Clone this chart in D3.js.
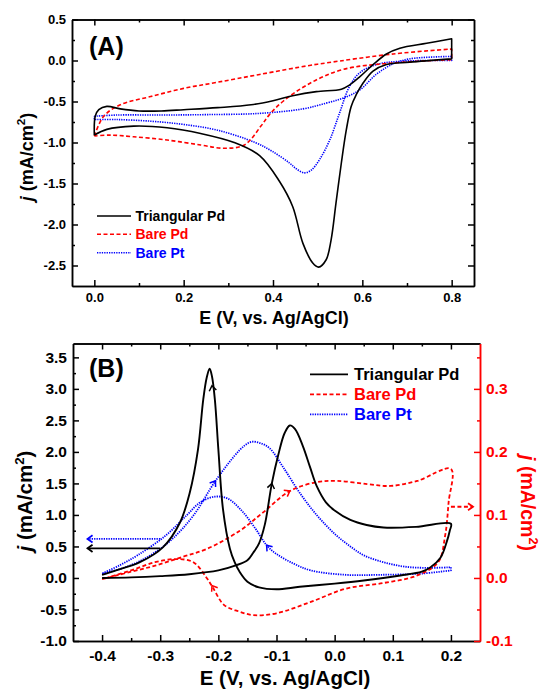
<!DOCTYPE html>
<html>
<head>
<meta charset="utf-8">
<script src="https://cdn.jsdelivr.net/npm/d3@7"></script>
<style>
  body { margin: 0; background: #fff; }
  svg { display: block; }
</style>
</head>
<body>
<svg width="541" height="691"></svg>
<script>
// ---- data, panel A (E in V, j in mA/cm2), points in sweep order ----
const triPdA = [
  [0.0,-0.91],[0.002,-0.68],[0.01,-0.6],[0.028,-0.56],[0.058,-0.59],[0.1,-0.615],[0.15,-0.615],[0.2,-0.6],
  [0.276,-0.575],[0.351,-0.54],[0.4,-0.49],[0.444,-0.43],[0.497,-0.38],[0.553,-0.35],[0.571,-0.3],[0.594,-0.2],
  [0.624,-0.05],[0.654,0.08],[0.684,0.15],[0.744,0.21],[0.8,0.265],
  [0.8,0.02],[0.706,-0.02],[0.654,-0.05],[0.624,-0.13],[0.601,-0.28],[0.586,-0.42],[0.575,-0.56],[0.564,-0.85],
  [0.553,-1.25],[0.541,-1.74],[0.53,-2.19],[0.519,-2.43],[0.502,-2.52],[0.489,-2.47],[0.467,-2.23],[0.444,-1.78],
  [0.414,-1.47],[0.37,-1.16],[0.313,-1.0],[0.238,-0.89],[0.163,-0.82],[0.088,-0.8],[0.028,-0.84],[0.0,-0.91]
];
const barePdA = [
  [0.0,-0.92],[0.021,-0.68],[0.058,-0.54],[0.126,-0.44],[0.2,-0.34],[0.276,-0.265],[0.37,-0.17],[0.482,-0.06],
  [0.519,-0.03],[0.669,0.08],[0.8,0.14],
  [0.8,0.01],[0.669,-0.03],[0.556,-0.11],[0.482,-0.28],[0.422,-0.5],[0.392,-0.66],[0.373,-0.8],[0.336,-1.03],
  [0.29,-1.07],[0.238,-1.03],[0.163,-0.97],[0.088,-0.93],[0.036,-0.91],[0.0,-0.92]
];
const barePtA = [
  [0.0,-0.68],[0.05,-0.665],[0.15,-0.665],[0.25,-0.66],[0.37,-0.645],[0.467,-0.59],[0.519,-0.52],[0.556,-0.46],
  [0.594,-0.36],[0.631,-0.17],[0.669,-0.04],[0.706,0.02],[0.8,0.05],
  [0.8,0.0],[0.684,-0.01],[0.631,-0.05],[0.594,-0.15],[0.571,-0.32],[0.549,-0.64],[0.527,-0.97],[0.504,-1.21],
  [0.485,-1.34],[0.47,-1.37],[0.452,-1.32],[0.437,-1.25],[0.399,-1.11],[0.36,-1.0],[0.276,-0.85],[0.2,-0.78],
  [0.126,-0.74],[0.05,-0.72],[0.0,-0.72],[0.0,-0.68]
];

// ---- data, panel B (black & blue on left axis, red on right axis) ----
const triPdB = [
  [-0.4,0.0],[-0.35,0.01],[-0.3,0.03],[-0.25,0.06],[-0.2,0.12],[-0.17,0.2],[-0.15,0.28],[-0.14,0.4],[-0.13,0.55],
  [-0.12,0.85],[-0.108,1.5],[-0.097,1.95],[-0.086,2.3],[-0.077,2.42],[-0.068,2.36],[-0.055,2.1],[-0.042,1.75],
  [-0.031,1.46],[-0.015,1.2],[0.0,1.07],[0.027,0.92],[0.055,0.84],[0.084,0.8],[0.14,0.81],[0.2,0.86],
  [0.198,0.75],[0.193,0.58],[0.182,0.32],[0.165,0.17],[0.15,0.1],[0.113,0.04],[0.05,-0.04],[0.0,-0.09],
  [-0.06,-0.14],[-0.1,-0.18],[-0.13,-0.15],[-0.15,-0.06],[-0.163,0.09],[-0.172,0.25],[-0.18,0.46],[-0.192,1.09],
  [-0.2,2.04],[-0.206,2.83],[-0.211,3.2],[-0.215,3.32],[-0.22,3.18],[-0.226,2.83],[-0.235,2.04],[-0.249,1.36],
  [-0.266,0.88],[-0.295,0.49],[-0.335,0.25],[-0.376,0.12],[-0.4,0.05]
];
const barePdB = [
  [-0.4,-0.002],[-0.35,0.01],[-0.307,0.02],[-0.26,0.034],[-0.22,0.046],[-0.163,0.075],[-0.123,0.104],
  [-0.077,0.138],[-0.031,0.152],[0.004,0.154],[0.056,0.149],[0.096,0.146],[0.142,0.154],[0.2,0.173],
  [0.196,0.12],[0.19,0.067],[0.178,0.025],[0.142,0.004],[0.084,-0.008],[0.019,-0.017],[-0.041,-0.038],
  [-0.1,-0.056],[-0.139,-0.059],[-0.165,-0.053],[-0.19,-0.043],[-0.209,-0.016],[-0.22,0.0],[-0.243,0.025],
  [-0.273,0.03],[-0.309,0.025],[-0.35,0.012],[-0.4,-0.002]
];
const barePtB = [
  [-0.4,0.07],[-0.37,0.14],[-0.339,0.25],[-0.31,0.4],[-0.279,0.62],[-0.243,0.99],[-0.205,1.54],[-0.172,1.94],
  [-0.155,2.1],[-0.143,2.16],[-0.128,2.14],[-0.112,2.06],[-0.088,1.75],[-0.06,1.35],[-0.031,1.0],[0.0,0.7],
  [0.027,0.5],[0.05,0.36],[0.084,0.25],[0.12,0.18],[0.16,0.16],[0.2,0.17],
  [0.2,0.12],[0.15,0.07],[0.078,0.05],[0.019,0.05],[-0.041,0.12],[-0.071,0.23],[-0.1,0.38],[-0.117,0.52],
  [-0.136,0.78],[-0.16,1.07],[-0.184,1.26],[-0.206,1.29],[-0.231,1.2],[-0.255,0.99],[-0.291,0.67],
  [-0.339,0.36],[-0.37,0.2],[-0.4,0.07]
];

// sweep-direction arrows on the curves of panel B: [series, E, j]
const curveArrowsB = [
  ['tri', -0.211, 3.05], ['tri', -0.108, 1.5],
  ['pt', -0.205, 1.54], ['pt', -0.117, 0.52],
  ['pd', -0.077, 0.138], ['pd', -0.211, -0.012]
];
// arrows pointing at the axis each curve belongs to: [series, E from, E to, j]
const axisArrowsB = [
  ['tri', -0.3, -0.425, 0.47], ['pt', -0.3, -0.425, 0.62], ['pd', 0.2, 0.238, 0.113]
];

// ticks
const xMajorA = [0, 0.2, 0.4, 0.6, 0.8], xMinorA = [0.1, 0.3, 0.5, 0.7];
const yMajorA = [-2.5, -2, -1.5, -1, -0.5, 0, 0.5];
const yMinorA = [-2.25, -1.75, -1.25, -0.75, -0.25, 0.25];
const xMajorB = [-0.4, -0.3, -0.2, -0.1, 0, 0.1, 0.2];
const xMinorB = [-0.35, -0.25, -0.15, -0.05, 0.05, 0.15];
const yMajorB = [-1, -0.5, 0, 0.5, 1, 1.5, 2, 2.5, 3, 3.5];
const yMinorB = [-0.75, -0.25, 0.25, 0.75, 1.25, 1.75, 2.25, 2.75, 3.25];
const yRMajorB = [-0.1, 0, 0.1, 0.2, 0.3];
const yRMinorB = [-0.05, 0.05, 0.15, 0.25, 0.35];

const seriesNames = { tri: 'Triangular Pd', pd: 'Bare Pd', pt: 'Bare Pt' };

const FONT = 'Arial, "Liberation Sans", Helvetica, sans-serif';
const style = {
  tri: { color: '#000000', dash: null },
  pd:  { color: '#ff0000', dash: '4,2.5' },
  pt:  { color: '#0000ff', dash: '1.3,1.1' }
};

const svg = d3.select('svg');
svg.append('rect').attr('width', 541).attr('height', 691).attr('fill', '#fff');
const fmt = d => d.toFixed(1);

// make() returns a fresh d3 axis generator
function axis(make, tx, ty, major, minor, fmtFn, pad, fs, color) {
  const g = svg.append('g').attr('transform', `translate(${tx},${ty})`);
  g.append('g').call(make().tickValues(minor).tickSizeInner(-3).tickSizeOuter(0).tickFormat(() => ''));
  g.append('g').call(make().tickValues(major).tickSizeInner(-6).tickSizeOuter(0)
    .tickPadding(pad).tickFormat(fmtFn));
  g.selectAll('g').attr('font-family', FONT).attr('font-size', fs).attr('font-weight', 'bold');
  g.selectAll('line').attr('stroke', color).attr('stroke-width', 1.5);
  g.selectAll('.domain').attr('stroke', color).attr('stroke-width', 1.5);
  g.selectAll('text').attr('fill', color);
  return g;
}

// smooth each sweep; where two points share the same E (a turning point) join them straight
function curve(data, x, y, s, w) {
  const line = d3.line().x(d => x(d[0])).y(d => y(d[1])).curve(d3.curveCatmullRom.alpha(0.5));
  const pieces = [[data[0]]];
  for (let i = 1; i < data.length; i++) {
    if (data[i][0] === data[i - 1][0]) pieces.push([data[i]]);
    else pieces[pieces.length - 1].push(data[i]);
  }
  const d = pieces.map((p, i) => {
    const str = p.length > 1 ? line(p) : `M${x(p[0][0])},${y(p[0][1])}`;
    return i === 0 ? str : 'L' + str.slice(1);
  }).join('');
  svg.append('path').attr('d', d).attr('fill', 'none')
    .attr('stroke', style[s].color).attr('stroke-width', w)
    .attr('stroke-dasharray', style[s].dash).attr('stroke-linejoin', 'round');
}

function chevron(px, py, ang, color, w) {
  svg.append('path').attr('d', 'M-5,-3.6L0,0L-5,3.6')
    .attr('transform', `translate(${px},${py}) rotate(${ang})`)
    .attr('fill', 'none').attr('stroke', color).attr('stroke-width', w);
}

function legend(x0, x1, tx, ys, fs, w) {
  ['tri', 'pd', 'pt'].forEach((s, i) => {
    svg.append('line').attr('x1', x0).attr('x2', x1).attr('y1', ys[i]).attr('y2', ys[i])
      .attr('stroke', style[s].color).attr('stroke-width', w).attr('stroke-dasharray', style[s].dash);
    svg.append('text').attr('x', tx).attr('y', ys[i] + fs * 0.36)
      .attr('font-family', FONT).attr('font-size', fs).attr('font-weight', 'bold')
      .attr('fill', style[s].color).text(seriesNames[s]);
  });
}

function jLabel(tx, ty, rot, fs, color) {
  const t = svg.append('text').attr('transform', `translate(${tx},${ty}) rotate(${rot})`)
    .attr('text-anchor', 'middle').attr('font-family', FONT).attr('font-size', fs)
    .attr('font-weight', 'bold').attr('fill', color);
  t.append('tspan').attr('font-style', 'italic').text('j');
  t.append('tspan').text(' (mA/cm');
  t.append('tspan').attr('font-size', fs * 0.65).attr('dy', -fs * 0.4).text('2');
  t.append('tspan').attr('dy', fs * 0.4).text(')');
}

function label(x, y, txt, fs, anchor) {
  svg.append('text').attr('x', x).attr('y', y).attr('text-anchor', anchor || 'start')
    .attr('font-family', FONT).attr('font-size', fs).attr('font-weight', 'bold').attr('fill', '#000').text(txt);
}

// ---------------- panel A ----------------
const xA = d3.scaleLinear().domain([-0.05, 0.85]).range([72, 474]);
const yA = d3.scaleLinear().domain([-2.75, 0.5]).range([286, 19.5]);

curve(barePtA, xA, yA, 'pt', 1.6);
curve(barePdA, xA, yA, 'pd', 1.6);
curve(triPdA, xA, yA, 'tri', 1.6);

axis(() => d3.axisBottom(xA), 0, 286, xMajorA, xMinorA, fmt, 7, 13, '#000');
axis(() => d3.axisTop(xA), 0, 19.5, xMajorA, xMinorA, () => '', 0, 13, '#000');
axis(() => d3.axisLeft(yA), 72, 0, yMajorA, yMinorA, fmt, 6, 13, '#000');
axis(() => d3.axisRight(yA), 474, 0, yMajorA, yMinorA, () => '', 0, 13, '#000');

legend(97, 131, 135.5, [216, 234.3, 252.7], 14, 1.6);
label(89, 54.7, '(A)', 25);
label(274, 324, 'E (V, vs. Ag/AgCl)', 18, 'middle');
jLabel(32.5, 157, -90, 18, '#000');

// ---------------- panel B ----------------
const xB = d3.scaleLinear().domain([-0.45, 0.25]).range([73, 480]);
const yB = d3.scaleLinear().domain([-1, 3.72]).range([641, 343.5]);
const yBR = d3.scaleLinear().domain([-0.1, 0.372]).range([641, 343.5]);
const yOf = { tri: yB, pt: yB, pd: yBR };
const dataB = { tri: triPdB, pt: barePtB, pd: barePdB };

curve(barePtB, xB, yB, 'pt', 1.8);
curve(barePdB, xB, yBR, 'pd', 1.8);
curve(triPdB, xB, yB, 'tri', 1.9);

// sweep arrows, direction taken from the neighbouring points of the curve
curveArrowsB.forEach(([s, E, j]) => {
  const y = yOf[s];
  const pts = dataB[s].map(d => [xB(d[0]), y(d[1])]);
  const px = xB(E), py = y(j);
  let best = 1, bd = Infinity;
  for (let i = 1; i < pts.length - 1; i++) {
    const dd = (pts[i][0] - px) ** 2 + (pts[i][1] - py) ** 2;
    if (dd < bd) { bd = dd; best = i; }
  }
  const a = Math.atan2(pts[best + 1][1] - pts[best - 1][1], pts[best + 1][0] - pts[best - 1][0]) * 180 / Math.PI;
  chevron(px, py, a, style[s].color, 1.5);
});

axisArrowsB.forEach(([s, e0, e1, j]) => {
  const y = yOf[s];
  svg.append('line').attr('x1', xB(e0)).attr('x2', xB(e1)).attr('y1', y(j)).attr('y2', y(j))
    .attr('stroke', style[s].color).attr('stroke-width', 1.8).attr('stroke-dasharray', style[s].dash);
  chevron(xB(e1), y(j), e1 < e0 ? 180 : 0, style[s].color, 1.8);
});

axis(() => d3.axisBottom(xB), 0, 641, xMajorB, xMinorB, fmt, 8.5, 15.5, '#000');
axis(() => d3.axisTop(xB), 0, 343.5, xMajorB, xMinorB, () => '', 0, 15.5, '#000');
axis(() => d3.axisLeft(yB), 73, 0, yMajorB, yMinorB, fmt, 6, 15.5, '#000');
axis(() => d3.axisRight(yBR), 480, 0, yRMajorB, yRMinorB, fmt, 6, 15.5, '#ff0000');

legend(310, 348, 354, [374.3, 394.3, 414.3], 16.5, 1.8);
label(89, 376.5, '(B)', 25);
label(285, 685, 'E (V, vs. Ag/AgCl)', 20.5, 'middle');
jLabel(32.4, 501, -90, 20.5, '#000');
jLabel(521, 503, 90, 19.5, '#ff0000');
</script>
</body>
</html>
